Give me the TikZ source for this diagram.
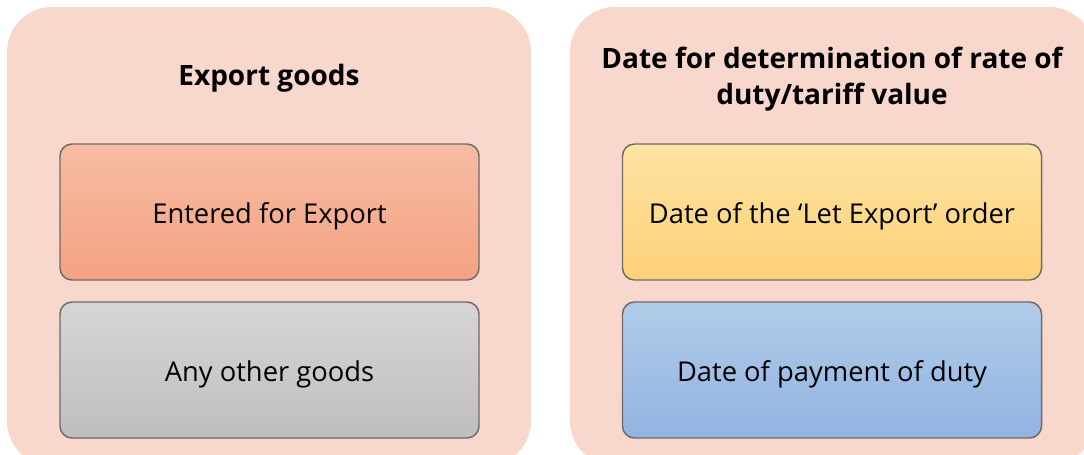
\documentclass[tikz,border=0pt]{standalone}
\usepackage{fontspec}
\setmainfont{Open Sans}
\begin{document}
\begin{tikzpicture}[x=0.75pt,y=-0.75pt,
  panel/.style={fill=panelfill, draw=none, rounded corners=33.75pt},
  item/.style={draw=itemborder, line width=1.1pt, rounded corners=9pt, minimum width=314.25pt, minimum height=102pt, inner sep=0pt},
  itemtext/.style={font=\fontsize{20.5}{24}\selectfont, anchor=center},
  ttl/.style={font=\bfseries\fontsize{21}{27}\selectfont, align=center}]
\definecolor{panelfill}{HTML}{F8D7CD}
\definecolor{itemborder}{HTML}{6F6A68}
\definecolor{orT}{HTML}{F7BCA3}
\definecolor{orB}{HTML}{F4A283}
\definecolor{grT}{HTML}{D6D6D6}
\definecolor{grB}{HTML}{BEBEBE}
\definecolor{yeT}{HTML}{FEE3A3}
\definecolor{yeB}{HTML}{FDD177}
\definecolor{blT}{HTML}{B2CBE9}
\definecolor{blB}{HTML}{92B4E1}
\useasboundingbox (0,0) rectangle (1084,454);
\begin{scope}
\clip (0,0) rectangle (1084,454);
\path[panel] (7,7) rectangle (531,466);
\path[panel] (570,7) rectangle (1094,466);
\end{scope}
\node[ttl] (t1) at (269,78) {Export goods};
\node[ttl] (t2) at (832,79) {Date for determination of rate of\\duty/tariff value};
\node[item, top color=orT, bottom color=orB] (a) at (269.5,212) {};
\node[item, top color=grT, bottom color=grB] (b) at (269.5,370) {};
\node[item, top color=yeT, bottom color=yeB] (c) at (832,212) {};
\node[item, top color=blT, bottom color=blB] (d) at (832,370) {};
\node[itemtext] (at) at ([yshift=-3pt]a.center) {Entered for Export};
\node[itemtext] (bt) at ([yshift=-3pt]b.center) {Any other goods};
\node[itemtext] (ct) at ([yshift=-3pt]c.center) {Date of the ‘Let Export’ order};
\node[itemtext] (dt) at ([yshift=-3pt]d.center) {Date of payment of duty};
\end{tikzpicture}
\end{document}
